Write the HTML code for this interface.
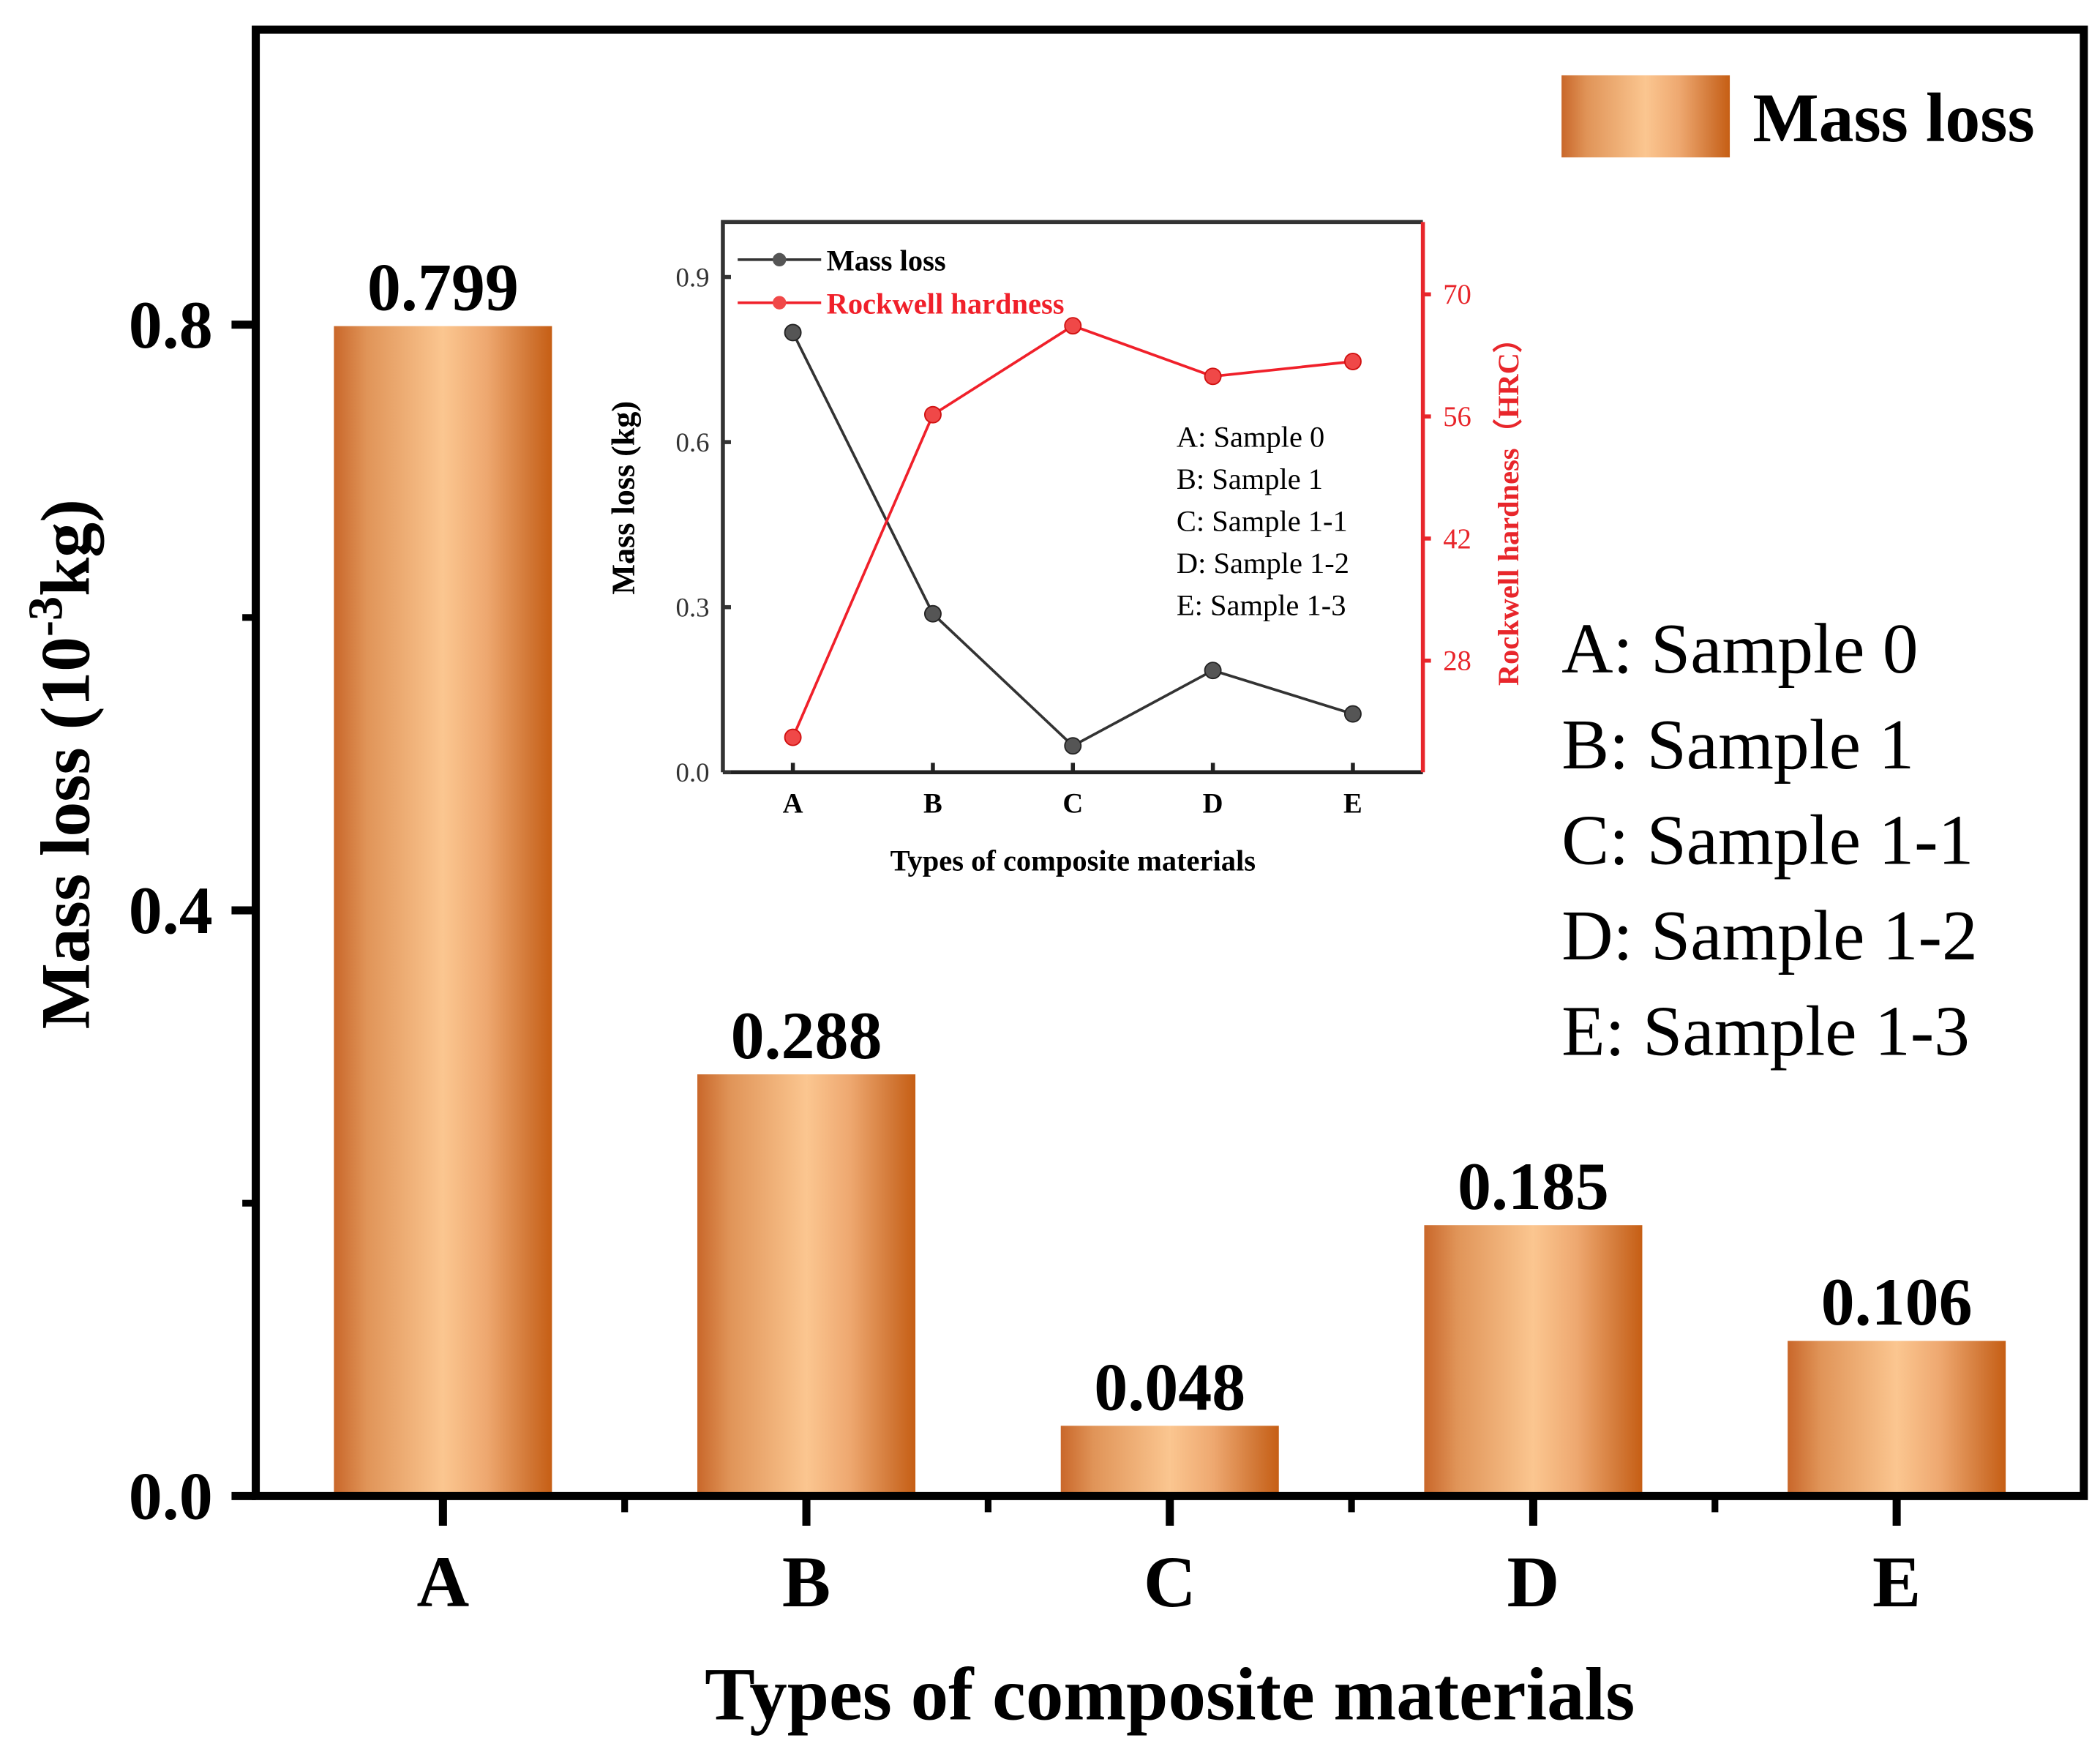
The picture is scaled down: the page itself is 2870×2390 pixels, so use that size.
<!DOCTYPE html>
<html><head><meta charset="utf-8"><style>
html,body{margin:0;padding:0;background:#fff;}
svg{display:block;font-family:"Liberation Serif",serif;}
</style></head><body>
<svg id="chart" width="2870" height="2390" viewBox="0 0 1560 1300" preserveAspectRatio="none" xmlns="http://www.w3.org/2000/svg">
<defs>
<linearGradient id="copper" x1="0" x2="1" y1="0" y2="0">
<stop offset="0" stop-color="#c9672a"/>
<stop offset="0.15" stop-color="#e09458"/>
<stop offset="0.5" stop-color="#fbc690"/>
<stop offset="0.7" stop-color="#eea870"/>
<stop offset="0.9" stop-color="#d17634"/>
<stop offset="1" stop-color="#c65e14"/>
</linearGradient>
</defs>
<rect width="1560" height="1300" fill="#fff"/>
<g id="main"></g>
<g id="inset"></g>
</svg>
<script>
const categories = ["A","B","C","D","E"];
const massLoss = [0.799, 0.288, 0.048, 0.185, 0.106];
const valueLabels = ["0.799","0.288","0.048","0.185","0.106"];
const yTicks = [0.0, 0.4, 0.8];
const yTickLabels = ["0.0","0.4","0.8"];
const yMinorTicks = [0.2, 0.6];
const sampleNames = ["A: Sample 0","B: Sample 1","C: Sample 1-1","D: Sample 1-2","E: Sample 1-3"];
const insetMass = [0.799, 0.288, 0.048, 0.185, 0.106];
const insetHardness = [19.2, 56.2, 66.4, 60.6, 62.3];
const insetLeftTicks = [0.0, 0.3, 0.6, 0.9];
const insetLeftTickLabels = ["0.0","0.3","0.6","0.9"];
const insetRightTicks = [28, 42, 56, 70];
const insetRightTickLabels = ["28","42","56","70"];

const NS = "http://www.w3.org/2000/svg";
function mk(parent, tag, attrs, text){
  const e = document.createElementNS(NS, tag);
  for (const k in attrs) e.setAttribute(k, attrs[k]);
  if (text !== undefined) e.textContent = text;
  parent.appendChild(e);
  return e;
}
// main axes
const P = {l:190, r:1548, t:22, b:1112};
const xMin=-0.515, xMax=4.515, yMin=0, yMax=1.0015;
const X = i => P.l + (i - xMin)/(xMax-xMin)*(P.r-P.l);
const Y = v => P.b - (v - yMin)/(yMax-yMin)*(P.b-P.t);
const g = document.getElementById('main');

// bars
categories.forEach((c,i)=>{
  const w = 0.6/(xMax-xMin)*(P.r-P.l);
  const r = mk(g,'rect',{x:X(i)-w/2, y:Y(massLoss[i]), width:w, height:Y(0)-Y(massLoss[i]), fill:'url(#copper)'});
  
  
  const t = mk(g,'text',{x:X(i), y:Y(massLoss[i])-12, 'text-anchor':'middle', 'font-size':50, 'font-weight':'bold'}, valueLabels[i]);
  
  
});
// frame
const fr = mk(g,'rect',{x:P.l, y:P.t, width:P.r-P.l, height:P.b-P.t, fill:'none', stroke:'#000', 'stroke-width':6});


// y ticks
yTicks.forEach((v,i)=>{
  const tk = mk(g,'line',{x1:P.l-18, x2:P.l, y1:Y(v), y2:Y(v), stroke:'#000','stroke-width':6});
  
  
  const tl = mk(g,'text',{x:158, y:Y(v)+17, 'text-anchor':'end','font-size':50,'font-weight':'bold'}, yTickLabels[i]);
  
  
});
yMinorTicks.forEach(v=>{
  const tk = mk(g,'line',{x1:P.l-10, x2:P.l, y1:Y(v), y2:Y(v), stroke:'#000','stroke-width':5});
  
  
});
// x ticks
categories.forEach((c,i)=>{
  const tk = mk(g,'line',{x1:X(i), x2:X(i), y1:P.b, y2:P.b+22, stroke:'#000','stroke-width':6});
  
  
  const tl = mk(g,'text',{x:X(i), y:1194, 'text-anchor':'middle','font-size':54,'font-weight':'bold'}, c);
  
  
  if (i < categories.length-1){
    const mt = mk(g,'line',{x1:X(i+0.5), x2:X(i+0.5), y1:P.b, y2:P.b+12, stroke:'#000','stroke-width':5});
    
    
  }
});
// axis titles
const xt = mk(g,'text',{x:869, y:1278, 'text-anchor':'middle','font-size':56,'font-weight':'bold'}, 'Types of composite materials');


const yt = mk(g,'text',{x:0, y:0, transform:'translate(66,568) rotate(-90)', 'text-anchor':'middle','font-size':52,'font-weight':'bold'});


mk(yt,'tspan',{},'Mass loss (10');
mk(yt,'tspan',{dy:-20,'font-size':36},'-3');
mk(yt,'tspan',{dy:20},'kg)');
// legend
const ls = mk(g,'rect',{x:1160, y:56, width:125, height:61, fill:'url(#copper)'});


const lt = mk(g,'text',{x:1302, y:105, 'font-size':52,'font-weight':'bold'}, 'Mass loss');


// sample list
sampleNames.forEach((s,i)=>{
  const t = mk(g,'text',{x:1160, y:500+i*71, 'font-size':53}, s);
  
  
});

// ---- inset ----
const I = {l:537, r:1057, t:165, b:574};
const ixMin=-0.5, ixMax=4.5;
const IX = i => I.l + (i-ixMin)/(ixMax-ixMin)*(I.r-I.l);
const IY = v => I.b - v/1.0*(I.b-I.t);
const hMin=15.2, hMax=78.3;
const IH = v => I.b - (v-hMin)/(hMax-hMin)*(I.b-I.t);
const gi = document.getElementById('inset');
const bg = mk(gi,'rect',{x:I.l,y:I.t,width:I.r-I.l,height:I.b-I.t,fill:'#fff'});


const axL = mk(gi,'path',{d:`M${I.l},${I.b} L${I.l},${I.t} L${I.r},${I.t}`,fill:'none',stroke:'#333','stroke-width':3});


const axB = mk(gi,'line',{x1:I.l,x2:I.r,y1:I.b,y2:I.b,stroke:'#222','stroke-width':3});


const axR = mk(gi,'line',{x1:I.r,x2:I.r,y1:I.t,y2:I.b,stroke:'#e8262b','stroke-width':3});


insetLeftTicks.forEach((v,i)=>{
  const tk = mk(gi,'line',{x1:I.l,x2:I.l+6,y1:IY(v),y2:IY(v),stroke:'#333','stroke-width':3});
  
  
  const tl = mk(gi,'text',{x:I.l-10,y:IY(v)+7,'text-anchor':'end','font-size':20,fill:'#333'}, insetLeftTickLabels[i]);
  
  
});
insetRightTicks.forEach((v,i)=>{
  const tk = mk(gi,'line',{x1:I.r,x2:I.r+6,y1:IH(v),y2:IH(v),stroke:'#e8262b','stroke-width':3});
  
  
  const tl = mk(gi,'text',{x:I.r+15,y:IH(v)+7,'font-size':21,fill:'#e8262b'}, insetRightTickLabels[i]);
  
  
});
categories.forEach((c,i)=>{
  const tk = mk(gi,'line',{x1:IX(i),x2:IX(i),y1:I.b,y2:I.b-7,stroke:'#222','stroke-width':3});
  
  
  const tl = mk(gi,'text',{x:IX(i),y:604,'text-anchor':'middle','font-size':21,'font-weight':'bold'}, c);
  
  
});
const ixt = mk(gi,'text',{x:797,y:647,'text-anchor':'middle','font-size':22,'font-weight':'bold'},'Types of composite materials');


const iyt = mk(gi,'text',{transform:'translate(471,370) rotate(-90)','text-anchor':'middle','font-size':24,'font-weight':'bold'},'Mass loss (kg)');


const iyr = mk(gi,'text',{transform:'translate(1128,375) rotate(-90)','text-anchor':'middle','font-size':22,'font-weight':'bold',fill:'#e8262b'},'Rockwell hardness（HRC）');


// series
const mPts = insetMass.map((v,i)=>IX(i)+','+IY(v)).join(' ');
const ml = mk(gi,'polyline',{points:mPts,fill:'none',stroke:'#333','stroke-width':2});


const hPts = insetHardness.map((v,i)=>IX(i)+','+IH(v)).join(' ');
const hl = mk(gi,'polyline',{points:hPts,fill:'none',stroke:'#f0202a','stroke-width':2});


insetMass.forEach((v,i)=>{
  const p = mk(gi,'circle',{cx:IX(i),cy:IY(v),r:6,fill:'#555',stroke:'#222','stroke-width':1});
  
  
});
insetHardness.forEach((v,i)=>{
  const p = mk(gi,'circle',{cx:IX(i),cy:IH(v),r:6,fill:'#f04848',stroke:'#d01010','stroke-width':1});
  
  
});
// inset legend
const l1 = mk(gi,'line',{x1:548,x2:610,y1:193,y2:193,stroke:'#333','stroke-width':2});


const c1 = mk(gi,'circle',{cx:579,cy:193,r:5,fill:'#555'});


const t1 = mk(gi,'text',{x:614,y:201,'font-size':22,'font-weight':'bold'},'Mass loss');


const l2 = mk(gi,'line',{x1:548,x2:610,y1:225,y2:225,stroke:'#f0202a','stroke-width':2});


const c2 = mk(gi,'circle',{cx:579,cy:225,r:5,fill:'#f04848'});


const t2 = mk(gi,'text',{x:614,y:233,'font-size':22,'font-weight':'bold',fill:'#f0202a'},'Rockwell hardness');


sampleNames.forEach((s,i)=>{
  const t = mk(gi,'text',{x:874,y:332+i*31.3,'font-size':22}, s);
  
  
});
</script>
</body></html>
